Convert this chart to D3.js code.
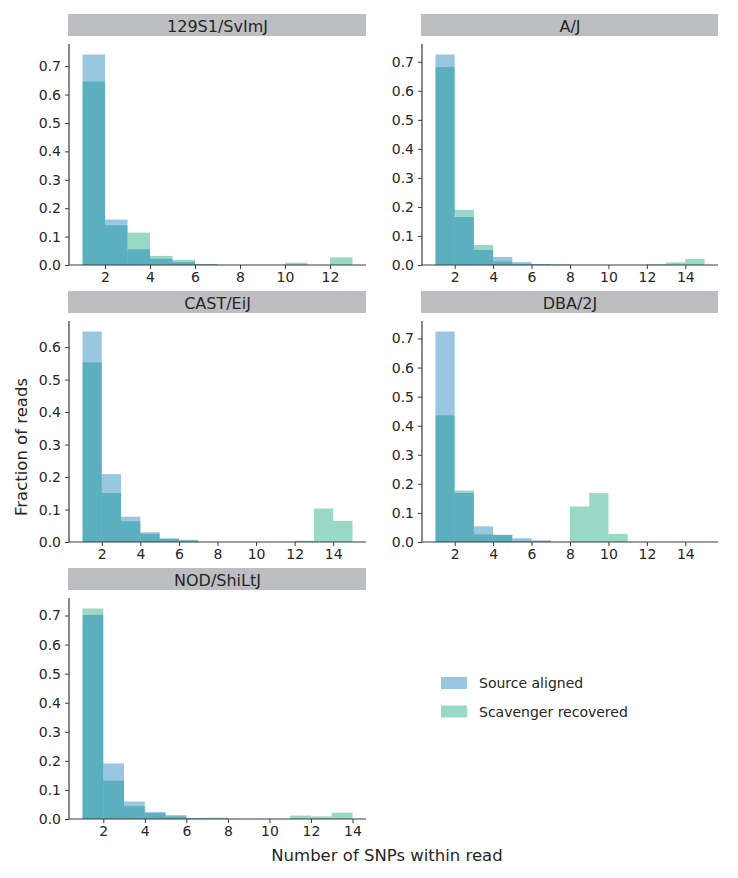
<!DOCTYPE html>
<html>
<head>
<meta charset="utf-8">
<script src="https://cdn.jsdelivr.net/npm/d3@7"></script>
<style>
  html, body { margin: 0; padding: 0; background: #fff; }
  svg { display: block; font-family: "DejaVu Sans", sans-serif; }
</style>
</head>
<body>
<svg id="chart" width="738" height="878"></svg>
<script>
// Strains (facet titles)
const strains = ["129S1/SvImJ", "A/J", "CAST/EiJ", "DBA/2J", "NOD/ShiLtJ"];
const seriesNames = ["Source aligned", "Scavenger recovered"];
// Bin left edges start at 1, width 1. Values = fraction of reads per bin.
const source129 = [0.741, 0.160, 0.055, 0.022, 0.010, 0.003, 0, 0, 0, 0, 0, 0];
const scav129   = [0.646, 0.140, 0.114, 0.032, 0.018, 0.003, 0, 0, 0, 0.008, 0, 0.027];
const sourceAJ  = [0.725, 0.165, 0.052, 0.028, 0.010, 0.003, 0.002, 0, 0, 0, 0, 0, 0, 0];
const scavAJ    = [0.682, 0.190, 0.069, 0.012, 0.004, 0.003, 0.001, 0, 0, 0, 0, 0.003, 0.009, 0.021];
const sourceCAST = [0.648, 0.209, 0.078, 0.030, 0.011, 0.004, 0, 0, 0, 0, 0, 0, 0, 0];
const scavCAST   = [0.553, 0.151, 0.064, 0.025, 0.010, 0.007, 0, 0, 0, 0, 0, 0.004, 0.103, 0.065];
const sourceDBA = [0.724, 0.169, 0.054, 0.025, 0.013, 0.006, 0, 0, 0, 0, 0, 0, 0, 0];
const scavDBA   = [0.436, 0.177, 0.026, 0.024, 0.004, 0.002, 0, 0.122, 0.168, 0.028, 0, 0, 0, 0];
const sourceNOD = [0.702, 0.191, 0.060, 0.024, 0.009, 0.003, 0.001, 0, 0, 0, 0, 0, 0];
const scavNOD   = [0.724, 0.132, 0.044, 0.020, 0.014, 0.003, 0.005, 0, 0, 0, 0.012, 0.009, 0.022];
const xTicks129 = [2, 4, 6, 8, 10, 12];
const xTicksOther = [2, 4, 6, 8, 10, 12, 14];
const yTicks7 = [0, 0.1, 0.2, 0.3, 0.4, 0.5, 0.6, 0.7];
const yTicks6 = [0, 0.1, 0.2, 0.3, 0.4, 0.5, 0.6];

const panels = [
  { name: strains[0], src: source129, scv: scav129, xTicks: xTicks129, yTicks: yTicks7, col: 0, row: 0 },
  { name: strains[1], src: sourceAJ, scv: scavAJ, xTicks: xTicksOther, yTicks: yTicks7, col: 1, row: 0 },
  { name: strains[2], src: sourceCAST, scv: scavCAST, xTicks: xTicksOther, yTicks: yTicks6, col: 0, row: 1 },
  { name: strains[3], src: sourceDBA, scv: scavDBA, xTicks: xTicksOther, yTicks: yTicks7, col: 1, row: 1 },
  { name: strains[4], src: sourceNOD, scv: scavNOD, xTicks: xTicksOther, yTicks: yTicks7, col: 0, row: 2 }
];

const colors = { src: "#0072B2", scv: "#009E73" };
const alpha = 0.4;
const colX = [[69, 366], [422, 718]];
const rowTop = [44, 321, 598];
const axH = 221;
const textColor = "#262626";
const axisColor = "#3a3a3a";

const svg = d3.select("#chart");

panels.forEach(p => {
  const [x0, x1] = colX[p.col];
  const y0 = rowTop[p.row], y1 = y0 + axH;
  const nb = Math.max(p.src.length, p.scv.length);
  const lo = 1, hi = 1 + nb;
  const m = (hi - lo) * 0.05;
  const x = d3.scaleLinear().domain([lo - m, hi + m]).range([x0, x1]);
  const ymax = d3.max(p.src.concat(p.scv)) * 1.05;
  const y = d3.scaleLinear().domain([0, ymax]).range([y1, y0]);

  // strip header
  svg.append("rect").attr("x", x0 - 1).attr("y", y0 - 30).attr("width", x1 - x0 + 1).attr("height", 22)
    .attr("fill", "#bdbec2");
  svg.append("text").attr("x", (x0 + x1) / 2).attr("y", y0 - 12.5).attr("text-anchor", "middle")
    .attr("font-size", 16).attr("fill", textColor).text(p.name);

  const g = svg.append("g");
  const drawSeries = (vals, color) => {
    g.selectAll(null).data(vals.map((v, i) => ({ v, i })).filter(d => d.v > 0)).enter().append("rect")
      .attr("x", d => x(lo + d.i))
      .attr("width", d => x(lo + d.i + 1) - x(lo + d.i))
      .attr("y", d => y(d.v))
      .attr("height", d => y(0) - y(d.v))
      .attr("fill", color).attr("fill-opacity", alpha);
  };
  drawSeries(p.scv, colors.scv);
  drawSeries(p.src, colors.src);

  // axes
  const xAxis = d3.axisBottom(x).tickValues(p.xTicks).tickSize(4).tickPadding(3).tickFormat(d3.format("d"));
  const gx = svg.append("g").attr("transform", `translate(0,${y1})`).call(xAxis);
  const yAxis = d3.axisLeft(y).tickValues(p.yTicks).tickSize(4).tickPadding(4).tickFormat(d3.format(".1f"));
  const gy = svg.append("g").attr("transform", `translate(${x0},0)`).call(yAxis);
  [gx, gy].forEach(a => {
    a.select(".domain").attr("stroke", axisColor).attr("stroke-width", 1.2);
    a.selectAll(".tick line").attr("stroke", axisColor);
    a.selectAll(".tick text").attr("fill", textColor).attr("font-size", 14)
      .attr("font-family", "DejaVu Sans, sans-serif");
  });
  gx.select(".domain").attr("d", `M${x0},0H${x1}`);
  gy.select(".domain").attr("d", `M0,${y1}V${y0}`);
});

// axis titles
svg.append("text").attr("x", 387).attr("y", 861).attr("text-anchor", "middle")
  .attr("font-size", 16.5).attr("fill", textColor).text("Number of SNPs within read");
svg.append("text").attr("transform", "translate(27,447) rotate(-90)").attr("text-anchor", "middle")
  .attr("font-size", 16.5).attr("fill", textColor).text("Fraction of reads");

// legend
const leg = svg.append("g");
seriesNames.forEach((n, i) => {
  const yy = 677 + i * 28.5;
  leg.append("rect").attr("x", 441).attr("y", yy).attr("width", 26).attr("height", 12)
    .attr("fill", i === 0 ? colors.src : colors.scv).attr("fill-opacity", alpha);
  leg.append("text").attr("x", 479).attr("y", yy + 11).attr("font-size", 14).attr("fill", textColor).text(n);
});
</script>
</body>
</html>
